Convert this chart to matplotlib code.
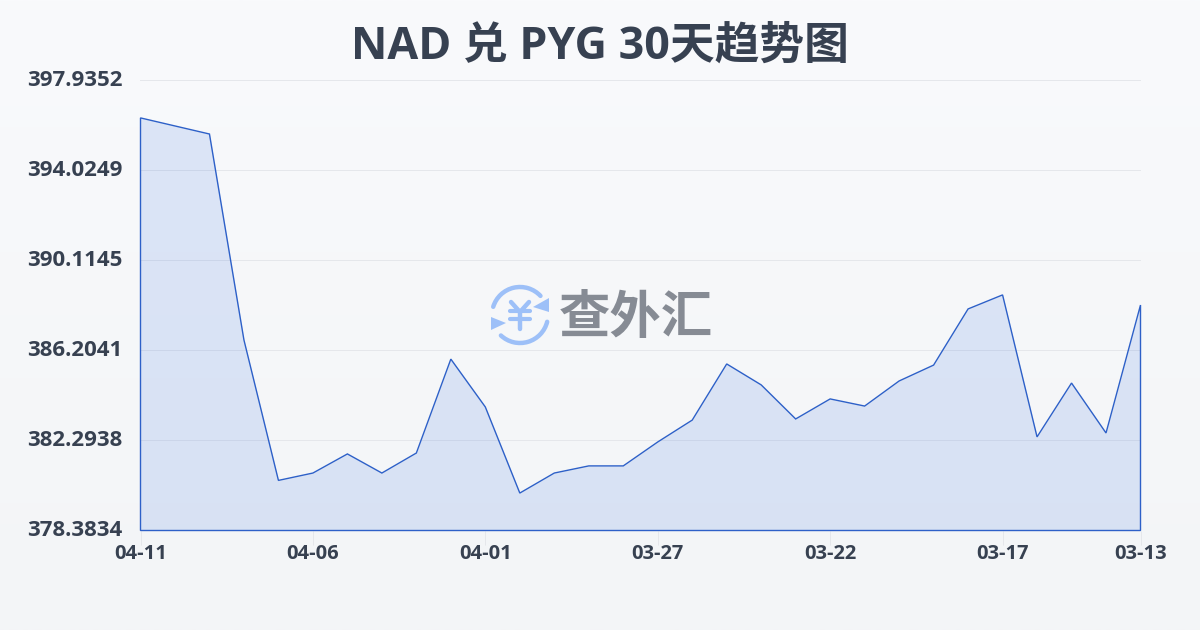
import numpy as np
import matplotlib
matplotlib.use("Agg")
import matplotlib.pyplot as plt
from matplotlib.patches import Arc, Polygon
from matplotlib.transforms import ScaledTranslation

plt.rcParams['font.family'] = ['Open Sans', 'Noto Sans CJK SC', 'DejaVu Sans']

title = "NAD 兑 PYG 30天趋势图"
values = [396.31, 395.96, 395.61, 386.66, 380.56, 380.88, 381.71, 380.88, 381.75, 385.83,
          383.75, 380.01, 380.88, 381.19, 381.19, 382.23, 383.18, 385.62, 384.71, 383.23,
          384.10, 383.79, 384.88, 385.57, 388.01, 388.62, 382.45, 384.79, 382.62, 388.18]
x_labels = ["04-11", "04-06", "04-01", "03-27", "03-22", "03-17", "03-13"]
x_label_pos = [0, 5, 10, 15, 20, 25, 29]
y_ticks = [378.3834, 382.2938, 386.2041, 390.1145, 394.0249, 397.9352]

text_color = "#374151"
line_color = "#2d60c8"
grid_color = "#e5e7eb"

W, H = 1200, 630
fig = plt.figure(figsize=(W / 100, H / 100), dpi=100)

# page background, light vertical gradient
bg = fig.add_axes([0, 0, 1, 1], zorder=0)
grad = np.linspace(0, 1, 256)[:, None, None]
top = np.array([249, 250, 252]) / 255
bottom = np.array([243, 245, 247]) / 255
bg.imshow(top + (bottom - top) * grad, aspect="auto", extent=[0, W, H, 0])
bg.set_xlim(0, W)
bg.set_ylim(H, 0)
bg.axis("off")

ax = fig.add_axes([140.5 / W, 1 - 530.5 / H, 1000 / W, 450 / H], zorder=1)
ax.patch.set_visible(False)
xs = np.arange(len(values))
ax.set_xlim(0, len(values) - 1)
ax.set_ylim(y_ticks[0], y_ticks[-1])

ax.set_yticks(y_ticks)
ax.set_yticklabels([f"{v:.4f}" for v in y_ticks])
ax.set_xticks(x_label_pos)
ax.set_xticklabels(x_labels)
ax.grid(axis="y", color=grid_color, lw=0.72, zorder=0)
for gl in ax.get_ygridlines():
    gl.set_snap(False)
    gl.set_clip_on(False)
ax.tick_params(axis="y", length=0, pad=13, labelsize=16, labelcolor=text_color)
ax.tick_params(axis="x", length=10, width=0.72, color=grid_color, pad=0, labelsize=14.5, labelcolor=text_color)
up = ScaledTranslation(0, 2.5 / 100, fig.dpi_scale_trans)
for lab in ax.get_yticklabels():
    lab.set_fontweight("bold")
    lab.set_transform(lab.get_transform() + up)
for lab in ax.get_xticklabels():
    lab.set_fontweight("bold")
for s in ax.spines.values():
    s.set_visible(False)

# closed area with outline all round, like the source
ax.fill_between(xs, values, y_ticks[0], color="#3b74e0", alpha=0.15, lw=0, zorder=2)
outline = list(zip(xs, values)) + [(xs[-1], y_ticks[0]), (xs[0], y_ticks[0])]
ax.add_patch(Polygon(outline, closed=True, fill=False, ec=line_color, lw=1.0, zorder=3, clip_on=False))

fig.text(600 / W, 1 - 47.5 / H, title, ha="center", va="center", fontsize=32.2,
         fontweight="bold", color=text_color)

# watermark logo on an overlay in pixel coords
ov = fig.add_axes([0, 0, 1, 1], zorder=4)
ov.patch.set_visible(False)
ov.set_xlim(0, W)
ov.set_ylim(H, 0)
ov.axis("off")
logo = "#9dc0f8"
cx, cy = 520, 315
ov.add_patch(Arc((cx, cy), 56, 56, theta1=197, theta2=317, color=logo, lw=3.2, capstyle="round"))
ov.add_patch(Arc((cx, cy), 56, 56, theta1=14, theta2=133, color=logo, lw=3.2, capstyle="round"))
ov.add_patch(Polygon([(549, 298), (549, 312), (533, 307)], color=logo, lw=0))
ov.add_patch(Polygon([(491, 317), (491, 330), (506, 323)], color=logo, lw=0))
ov.plot([cx - 9, cx, cx + 9], [cy - 13, cy - 3, cy - 13], color=logo, lw=3.2, solid_capstyle="round")
ov.plot([cx, cx], [cy - 3, cy + 14], color=logo, lw=3.2, solid_capstyle="round")
ov.plot([cx - 10, cx + 10], [cy - 4, cy - 4], color=logo, lw=3, solid_capstyle="round")
ov.plot([cx - 10, cx + 10], [cy + 4, cy + 4], color=logo, lw=3, solid_capstyle="round")
ov.text(636, 320, "查外汇", ha="center", va="center", fontsize=37, fontweight="bold", color="#868b94")

fig.savefig("out.png", dpi=100)
